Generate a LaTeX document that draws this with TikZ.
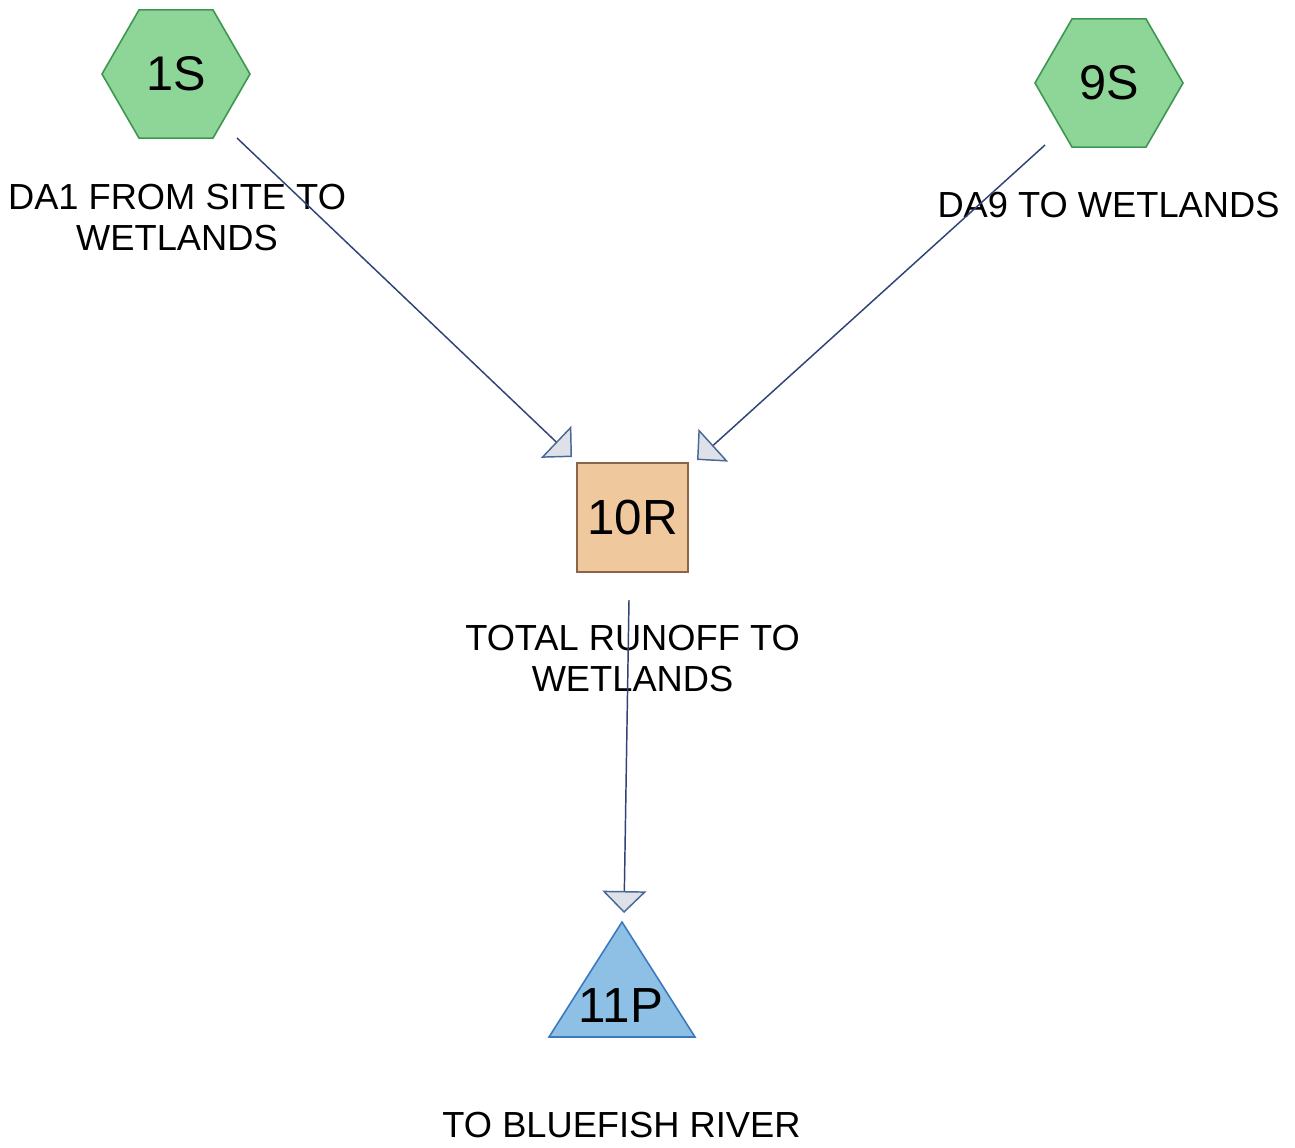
\documentclass[tikz,border=0pt]{standalone}
\usepackage{fontspec}
\setmainfont{Liberation Sans}
\usetikzlibrary{shapes.geometric,arrows.meta}
\definecolor{hexfill}{RGB}{142,214,152}
\definecolor{hexline}{RGB}{62,150,82}
\definecolor{sqfill}{RGB}{240,200,158}
\definecolor{sqline}{RGB}{140,100,70}
\definecolor{trifill}{RGB}{142,192,230}
\definecolor{triline}{RGB}{60,122,192}
\definecolor{linkcol}{RGB}{48,66,118}
\definecolor{headline}{RGB}{72,104,150}
\definecolor{headfill}{RGB}{222,226,232}
\tikzset{
  hexnode/.style={regular polygon, regular polygon sides=6, minimum size=111pt, inner sep=0pt,
    fill=hexfill, draw=hexline, line width=1.2pt, font=\fontsize{36.5}{40}\selectfont},
  sqnode/.style={rectangle, minimum width=83.25pt, minimum height=81.75pt, inner sep=0pt,
    fill=sqfill, draw=sqline, line width=1.2pt, font=\fontsize{37}{40}\selectfont},
  trishape/.style={fill=trifill, draw=triline, line width=1.2pt, line join=miter},
  bigtext/.style={inner sep=0pt, font=\fontsize{37}{40}\selectfont},
  lbl/.style={inner sep=0pt, align=center, font=\fontsize{27.2}{30.75}\selectfont},
  link/.style={draw=linkcol, line width=1.1pt,
    -{Triangle[length=16.5pt, width=33pt, color=headline, fill=headfill, line width=1.1pt]}},
}
\begin{document}
\begin{tikzpicture}[x=0.75pt, y=-0.75pt]
\useasboundingbox (0,0) rectangle (1295,1147);
% nodes
\node[hexnode] (n1S) at (176,74) {1S};
\node[hexnode] (n9S) at (1109,83) {9S};
\node[sqnode] (n10R) at (632.5,517.5) {10R};
\coordinate (p11a) at (622,922);
\coordinate (p11b) at (695,1037);
\coordinate (p11c) at (549,1037);
\path[trishape] (p11a) -- (p11b) -- (p11c) -- cycle;
\node[bigtext] (n11P) at (621,1006) {11P};
% labels
\node[lbl] (l1S) at (177,217.5) {DA1 FROM SITE TO\\WETLANDS};
\node[lbl] (l9S) at (1108.5,205) {DA9 TO WETLANDS};
\node[lbl] (l10R) at (632.5,658.5) {TOTAL RUNOFF TO\\WETLANDS};
\node[lbl] (l11P) at (621.5,1125) {TO BLUEFISH RIVER};
% connector ends
\coordinate (s1) at (237,138);
\coordinate (t1) at (572,457);
\coordinate (s9) at (1045,145);
\coordinate (t9) at (697,460);
\coordinate (s10) at (629,600);
\coordinate (t10) at (624,913);
\draw[link] (s1) -- (t1);
\draw[link] (s9) -- (t9);
\draw[link] (s10) -- (t10);
\end{tikzpicture}
\end{document}
